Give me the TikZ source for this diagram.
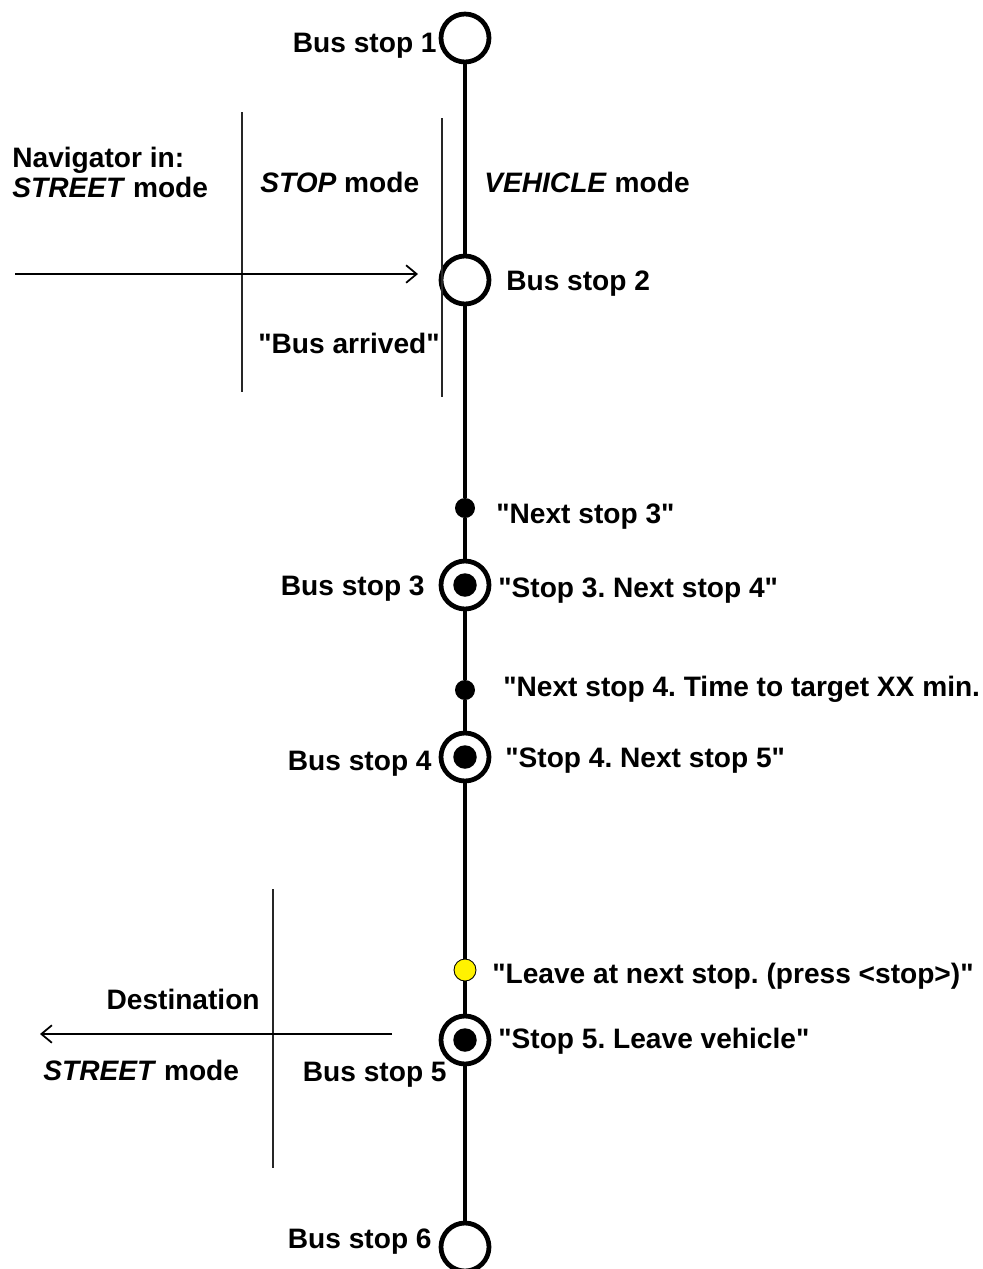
\documentclass[tikz,border=0pt]{standalone}
\usepackage{fontspec}
\setmainfont{Liberation Sans}[Ligatures=TeXOff]
\usetikzlibrary{arrows.meta}
\tikzset{
  lbl/.style={inner sep=0pt,font=\fontsize{16}{19}\selectfont\bfseries},
  stp/.style={circle,draw,line width=2.7pt,minimum size=0.96cm,inner sep=0pt,fill=white},
  full/.style={stp,path picture={\fill[black] (path picture bounding box.center) circle (0.235cm);}},
  pt/.style={circle,fill,minimum size=0.4cm,inner sep=0pt},
  warn/.style={circle,draw,fill=yellow,line width=0.5pt,minimum size=0.44cm,inner sep=0pt},
  route/.style={line width=2.8pt},
  sep/.style={line width=0.8pt,black!85},
  go/.style={line width=0.6pt,-{Straight Barb[length=6pt,width=10pt,line width=1pt]}}
}

\begin{document}
\frenchspacing
\begin{tikzpicture}[x=0.02cm,y=-0.02cm]
\useasboundingbox (0,0) rectangle (983,1269);
% stops on the line
\node[stp] (s1) at (465,38) {};
\node[stp] (s2) at (465,280) {};
\node[pt] (n3) at (465,508) {};
\node[full] (s3) at (465,585) {};
\node[pt] (n4) at (465,690) {};
\node[full] (s4) at (465,757) {};
\node[warn] (lv) at (465,970) {};
\node[full] (s5) at (465,1040) {};
\node[stp] (s6) at (465,1247) {};
\draw[route] (s1)--(s2)--(n3)--(s3)--(n4)--(s4)--(lv)--(s5)--(s6);
% mode borders
\coordinate (a1) at (242,112); \coordinate (a2) at (242,392);
\coordinate (b1) at (442,118); \coordinate (b2) at (442,397);
\coordinate (c1) at (273,889); \coordinate (c2) at (273,1168);
\draw[sep] (a1)--(a2);
\draw[sep] (b1)--(b2);
\draw[sep] (c1)--(c2);
% arrows
\coordinate (p1) at (15,274); \coordinate (p2) at (418,274);
\coordinate (q1) at (392,1034); \coordinate (q2) at (40,1034);
\draw[go] (p1)--(p2);
\draw[go] (q1)--(q2);
% labels
\node[lbl,anchor=base east] (t1) at (437,52) {Bus stop 1};
\node[lbl,anchor=base west] (nav) at (12,167) {Navigator in:};
\node[lbl,anchor=base west] (st1) at (12,197) {\textit{STREET} mode};
\node[lbl,anchor=base west] (sm) at (260,192) {\textit{STOP} mode};
\node[lbl,anchor=base west] (vm) at (484,192) {\textit{VEHICLE} mode};
\node[lbl,anchor=base west] (t2) at (506,290) {Bus stop 2};
\node[lbl,anchor=base west] (ba) at (258,353) {"Bus arrived"};
\node[lbl,anchor=base west] (m1) at (496,523) {"Next stop 3"};
\node[lbl,anchor=base east] (t3) at (425,595) {Bus stop 3};
\node[lbl,anchor=base west] (m2) at (498,597) {"Stop 3. Next stop 4"};
\node[lbl,anchor=base west] (m3) at (503,696) {"Next stop 4. Time to target XX min.};
\node[lbl,anchor=base east] (t4) at (432,770) {Bus stop 4};
\node[lbl,anchor=base west] (m4) at (505,767) {"Stop 4. Next stop 5"};
\node[lbl,anchor=base west] (m5) at (492,983) {"Leave at next stop. (press <stop>)"};
\node[lbl,anchor=base east] (dst) at (260,1009) {Destination};
\node[lbl,anchor=base west] (m6) at (498,1048) {"Stop 5. Leave vehicle"};
\node[lbl,anchor=base west] (st2) at (43,1080) {\textit{STREET} mode};
\node[lbl,anchor=base east] (t5) at (447,1081) {Bus stop 5};
\node[lbl,anchor=base east] (t6) at (432,1248) {Bus stop 6};
\end{tikzpicture}
\end{document}
